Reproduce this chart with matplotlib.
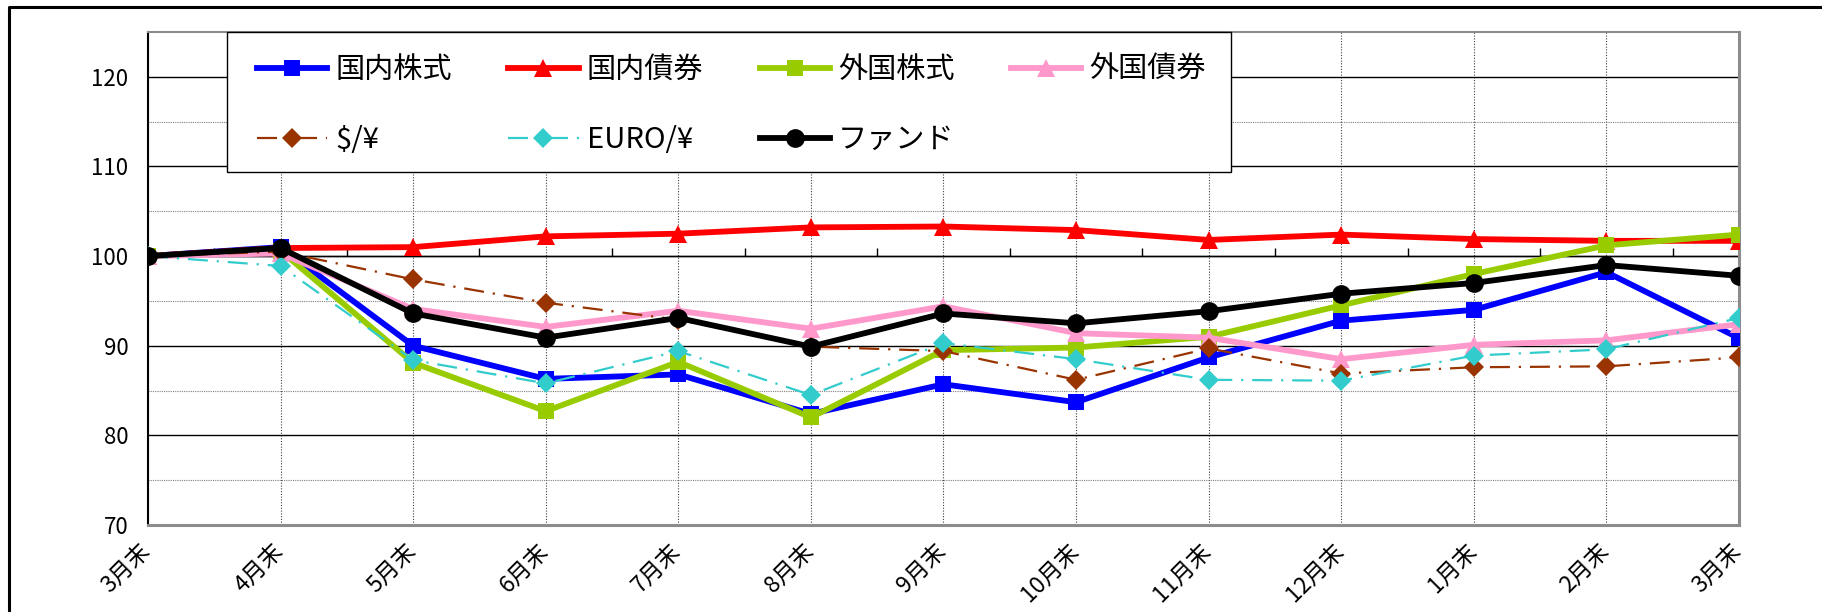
import matplotlib
matplotlib.use("Agg")
import matplotlib.pyplot as plt
import matplotlib.transforms as mtransforms
from matplotlib.lines import Line2D
from matplotlib.patches import Rectangle
import numpy as np

plt.rcParams['font.family'] = ['Noto Sans CJK JP', 'DejaVu Sans']

months = ['3月末', '4月末', '5月末', '6月末', '7月末', '8月末', '9月末',
          '10月末', '11月末', '12月末', '1月末', '2月末', '3月末']

domestic_stock = [100, 101.0, 90.0, 86.3, 86.8, 82.4, 85.7, 83.7, 88.7, 92.8, 94.0, 98.2, 90.85]
domestic_bond = [100, 100.9, 101.0, 102.2, 102.5, 103.2, 103.3, 102.9, 101.8, 102.4, 101.9, 101.7, 101.7]
foreign_stock = [100, 100.6, 88.1, 82.7, 88.2, 82.0, 89.5, 89.8, 91.0, 94.5, 98.0, 101.2, 102.4]
foreign_bond = [100, 100.3, 94.1, 92.1, 93.9, 91.9, 94.4, 91.4, 90.9, 88.5, 90.1, 90.6, 92.4]
usd_jpy = [100, 100.5, 97.4, 94.8, 92.9, 89.9, 89.4, 86.2, 89.7, 86.9, 87.6, 87.7, 88.7]
eur_jpy = [100, 98.9, 88.4, 85.8, 89.4, 84.5, 90.3, 88.5, 86.2, 86.1, 88.9, 89.6, 93.1]
fund = [100, 100.9, 93.6, 90.9, 93.1, 89.9, 93.6, 92.5, 93.85, 95.8, 97.0, 99.0, 97.8]

labels = ['国内株式', '国内債券', '外国株式', '外国債券', '$/¥', 'EURO/¥', 'ファンド']

W, H = 1822, 612
fig = plt.figure(figsize=(W / 100, H / 100), dpi=100)
fig.patch.set_facecolor('white')

ax_l, ax_r, ax_t, ax_b = 148, 1739, 32, 525
ax = fig.add_axes([ax_l / W, 1 - ax_b / H, (ax_r - ax_l) / W, (ax_b - ax_t) / H])

x = np.arange(len(months))
dd = (0, (9, 4, 1, 4))
series = [
    (domestic_stock, dict(color='#0000FF', lw=4.2, marker='s', ms=11, ls='-')),
    (domestic_bond, dict(color='#FF0000', lw=4.2, marker='^', ms=12.5, ls='-')),
    (foreign_stock, dict(color='#99CC00', lw=4.2, marker='s', ms=12, ls='-')),
    (foreign_bond, dict(color='#FF99CC', lw=4.2, marker='^', ms=12.5, ls='-')),
    (usd_jpy, dict(color='#993300', lw=1.6, marker='D', ms=10, ls=dd)),
    (eur_jpy, dict(color='#33CCCC', lw=1.6, marker='D', ms=10, ls=dd)),
    (fund, dict(color='#000000', lw=4.2, marker='o', ms=13.5, ls='-')),
]
handles = []
for (vals, st), lab in zip(series, labels):
    h, = ax.plot(x, vals, label=lab, markeredgewidth=0, zorder=3,
                 solid_joinstyle='round', **st)
    handles.append(h)

ax.set_xlim(0, 12)
ax.set_ylim(70, 125)
ax.set_yticks(np.arange(70, 121, 10))
ax.set_yticks(np.arange(75, 120, 10), minor=True)
ax.set_xticks(x)
ax.set_xticklabels(months, rotation=45, ha='right', va='center',
                   rotation_mode='anchor', fontsize=16.5)
ax.tick_params(axis='x', length=0, pad=16)
ax.tick_params(axis='y', which='both', length=0, pad=14, labelsize=16)
off = mtransforms.ScaledTranslation(-1 / 100, 0, fig.dpi_scale_trans)
for lbl in ax.get_xticklabels():
    lbl.set_transform(lbl.get_transform() + off)

ax.grid(which='major', axis='y', color='black', lw=1.0, ls='-', zorder=1)
ax.grid(which='minor', axis='y', color='#808080', lw=0.8, ls=(0, (1, 1)), zorder=1)
ax.grid(which='major', axis='x', color='#404040', lw=0.8, ls=(0, (1, 1.5)), zorder=1)
ax.set_axisbelow(True)

ax.spines['left'].set_color('black')
ax.spines['left'].set_linewidth(1.5)
for s in ['bottom', 'right']:
    ax.spines[s].set_color('#8C8C8C')
    ax.spines[s].set_linewidth(2.2)
ax.spines['top'].set_color('#8C8C8C')
ax.spines['top'].set_linewidth(1.5)

# category axis crossing at 100 with tick marks between categories
sec = ax.secondary_xaxis((100 - 70) / (125 - 70))
sec.set_xticks(np.arange(0.5, 12, 1))
sec.tick_params(direction='out', length=6, width=1, labeltop=False,
                labelbottom=False, color='black')
sec.set_xticklabels([])
for s in sec.spines.values():
    s.set_color('black')
    s.set_linewidth(1.0)

# legend box
lg_l, lg_r, lg_t, lg_b = 227, 1231, 32, 172
rect = Rectangle((lg_l / W, 1 - lg_b / H), (lg_r - lg_l) / W, (lg_b - lg_t) / H,
                 transform=fig.transFigure, facecolor='white', edgecolor='black',
                 lw=1.0, zorder=4, clip_on=False)
ax.add_patch(rect)
order = [0, 4, 1, 5, 2, 6, 3]
leg = ax.legend([handles[i] for i in order], [labels[i] for i in order],
                ncol=4, loc='upper left', bbox_to_anchor=(257 / W, 1 - 55 / H),
                bbox_transform=fig.transFigure, frameon=False, fontsize=21,
                handlelength=2.41, handletextpad=0.28, columnspacing=1.93,
                labelspacing=1.38, borderpad=0, borderaxespad=0, numpoints=1)
leg.set_zorder(5)

# outer chart frame
fig.add_artist(Line2D([9 / W, 9 / W, 1.0], [0.0, 1 - 7 / H, 1 - 7 / H],
                      transform=fig.transFigure, color='black', lw=2.2))

fig.savefig('out.png', dpi=100)
